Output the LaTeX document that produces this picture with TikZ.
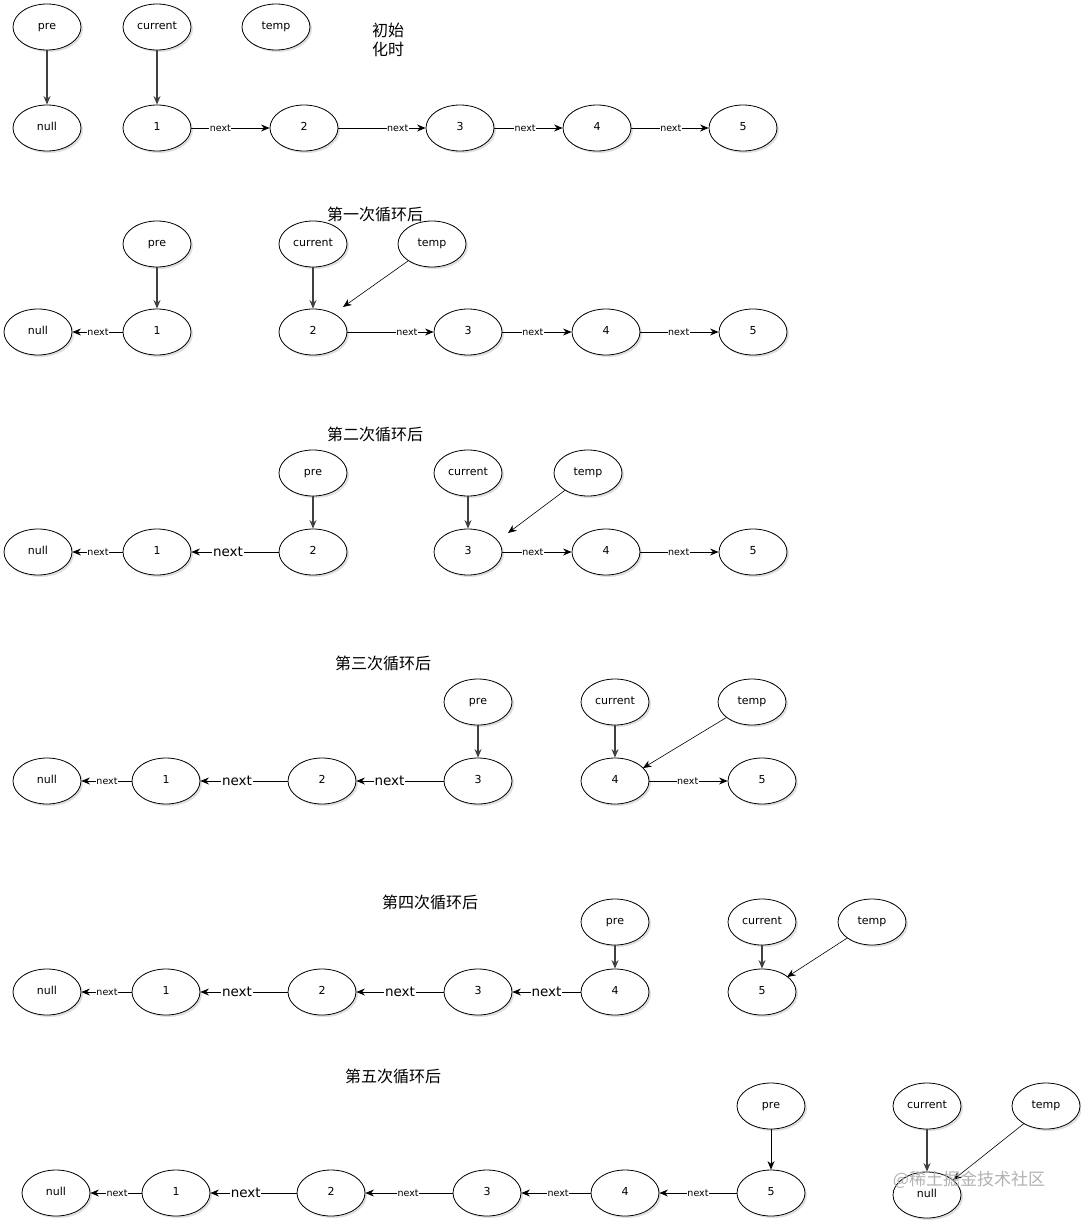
\documentclass[tikz,border=0pt]{standalone}
\usepackage{fontspec}
\usetikzlibrary{shapes.geometric,arrows.meta,shadows}
\newfontfamily\latf{DejaVu Sans}
\newfontfamily\cjkf{Noto Sans CJK SC}
\tikzset{
 ell/.style={ellipse, draw, line width=0.8pt, fill=white, minimum width=68pt, minimum height=46pt, inner sep=0pt,
   font=\latf\fontsize{11}{12}\selectfont, text height=1.6ex, text depth=0.3ex,
   drop shadow={opacity=0.25, shadow xshift=2pt, shadow yshift=-2pt}},
 nxt/.style={draw, line width=0.8pt, -{Stealth[length=8.5pt,width=7pt]}},
 ptr/.style={draw=black!75, line width=1.2pt, -{Stealth[length=8.5pt,width=7pt]}},
 thinptr/.style={draw, line width=0.7pt, -{Stealth[length=8.5pt,width=7pt]}},
 tmparr/.style={draw, line width=0.6pt, -{Stealth[length=8.5pt,width=7pt]}},
 sl/.style={fill=white, inner sep=0.6pt, font=\latf\fontsize{9.5}{11}\selectfont},
 bl/.style={fill=white, inner sep=0.6pt, font=\latf\fontsize{13.5}{15}\selectfont},
 ttl/.style={font=\cjkf\fontsize{16}{19}\selectfont, align=left, inner sep=0pt},
 wm/.style={font=\cjkf\fontsize{17}{19}\selectfont, text=black!30, inner sep=0pt}
}
\begin{document}
\begin{tikzpicture}[x=1pt,y=-1pt]
\useasboundingbox[fill=white] (0,0) rectangle (1080,1220);

% ---------- Row 0: init ----------
\node[ttl] (t0) at (388,40) {初始\\化时};
\node[ell] (a-pre) at (47,27) {pre};
\node[ell] (a-cur) at (157,27) {current};
\node[ell] (a-tmp) at (276,27) {temp};
\node[ell] (a-null) at (47,128) {null};
\node[ell] (a1) at (157,128) {1};
\node[ell] (a2) at (304,128) {2};
\node[ell] (a3) at (460,128) {3};
\node[ell] (a4) at (597,128) {4};
\node[ell] (a5) at (743,128) {5};
\draw[ptr] (a-pre) -- (a-null);
\draw[ptr] (a-cur) -- (a1);
\draw[nxt] (a1) -- (a2) node[sl,pos=0.37] {next};
\draw[nxt] (a2) -- (a3) node[sl,pos=0.68] {next};
\draw[nxt] (a3) -- (a4) node[sl,pos=0.45] {next};
\draw[nxt] (a4) -- (a5) node[sl,pos=0.51] {next};

% ---------- Row 1 ----------
\node[ttl] (t1) at (375,214) {第一次循环后};
\node[ell] (b-pre) at (157,244) {pre};
\node[ell] (b-cur) at (313,244) {current};
\node[ell] (b-tmp) at (432,244) {temp};
\node[ell] (b-null) at (38,332) {null};
\node[ell] (b1) at (157,332) {1};
\node[ell] (b2) at (313,332) {2};
\node[ell] (b3) at (468,332) {3};
\node[ell] (b4) at (606,332) {4};
\node[ell] (b5) at (753,332) {5};
\coordinate (b-tt) at (343,307);
\draw[ptr] (b-pre) -- (b1);
\draw[ptr] (b-cur) -- (b2);
\draw[tmparr] (b-tmp) -- (b-tt);
\draw[nxt] (b1) -- (b-null) node[sl,pos=0.49] {next};
\draw[nxt] (b2) -- (b3) node[sl,pos=0.69] {next};
\draw[nxt] (b3) -- (b4) node[sl,pos=0.44] {next};
\draw[nxt] (b4) -- (b5) node[sl,pos=0.49] {next};

% ---------- Row 2 ----------
\node[ttl] (t2) at (375,434) {第二次循环后};
\node[ell] (c-pre) at (313,473) {pre};
\node[ell] (c-cur) at (468,473) {current};
\node[ell] (c-tmp) at (588,473) {temp};
\node[ell] (c-null) at (38,552) {null};
\node[ell] (c1) at (157,552) {1};
\node[ell] (c2) at (313,552) {2};
\node[ell] (c3) at (468,552) {3};
\node[ell] (c4) at (606,552) {4};
\node[ell] (c5) at (753,552) {5};
\coordinate (c-tt) at (508,533);
\draw[ptr] (c-pre) -- (c2);
\draw[ptr] (c-cur) -- (c3);
\draw[tmparr] (c-tmp) -- (c-tt);
\draw[nxt] (c1) -- (c-null) node[sl,pos=0.49] {next};
\draw[nxt] (c2) -- (c1) node[bl,pos=0.58] {next};
\draw[nxt] (c3) -- (c4) node[sl,pos=0.44] {next};
\draw[nxt] (c4) -- (c5) node[sl,pos=0.49] {next};

% ---------- Row 3 ----------
\node[ttl] (t3) at (383,663) {第三次循环后};
\node[ell] (d-pre) at (478,702) {pre};
\node[ell] (d-cur) at (615,702) {current};
\node[ell] (d-tmp) at (752,702) {temp};
\node[ell] (d-null) at (47,781) {null};
\node[ell] (d1) at (166,781) {1};
\node[ell] (d2) at (322,781) {2};
\node[ell] (d3) at (478,781) {3};
\node[ell] (d4) at (615,781) {4};
\node[ell] (d5) at (762,781) {5};
\coordinate (d-tt) at (643,768);
\draw[ptr] (d-pre) -- (d3);
\draw[ptr] (d-cur) -- (d4);
\draw[tmparr] (d-tmp) -- (d-tt);
\draw[nxt] (d1) -- (d-null) node[sl,pos=0.49] {next};
\draw[nxt] (d2) -- (d1) node[bl,pos=0.58] {next};
\draw[nxt] (d3) -- (d2) node[bl,pos=0.62] {next};
\draw[nxt] (d4) -- (d5) node[sl,pos=0.49] {next};

% ---------- Row 4 ----------
\node[ttl] (t4) at (430,902) {第四次循环后};
\node[ell] (e-pre) at (615,922) {pre};
\node[ell] (e-cur) at (762,922) {current};
\node[ell] (e-tmp) at (872,922) {temp};
\node[ell] (e-null) at (47,992) {null};
\node[ell] (e1) at (166,992) {1};
\node[ell] (e2) at (322,992) {2};
\node[ell] (e3) at (478,992) {3};
\node[ell] (e4) at (615,992) {4};
\node[ell] (e5) at (762,992) {5};
\coordinate (e-tt) at (787,977);
\draw[ptr] (e-pre) -- (e4);
\draw[ptr] (e-cur) -- (e5);
\draw[tmparr] (e-tmp) -- (e-tt);
\draw[nxt] (e1) -- (e-null) node[sl,pos=0.49] {next};
\draw[nxt] (e2) -- (e1) node[bl,pos=0.58] {next};
\draw[nxt] (e3) -- (e2) node[bl,pos=0.5] {next};
\draw[nxt] (e4) -- (e3) node[bl,pos=0.5] {next};

% ---------- Row 5 ----------
\node[ttl] (t5) at (393,1076) {第五次循环后};
\node[ell] (f-pre) at (771,1106) {pre};
\node[ell] (f-cur) at (927,1106) {current};
\node[ell] (f-tmp) at (1046,1106) {temp};
\node[ell] (f-null) at (56,1193) {null};
\node[ell] (f1) at (176,1193) {1};
\node[ell] (f2) at (331,1193) {2};
\node[ell] (f3) at (487,1193) {3};
\node[ell] (f4) at (625,1193) {4};
\node[ell] (f5) at (771,1193) {5};
\node[ell] (f-nullb) at (927,1195) {null};
\coordinate (f-tt) at (953,1180);
\draw[thinptr] (f-pre) -- (f5);
\draw[ptr] (f-cur) -- (f-nullb);
\draw[tmparr] (f-tmp) -- (f-tt);
\draw[nxt] (f1) -- (f-null) node[sl,pos=0.48] {next};
\draw[nxt] (f2) -- (f1) node[bl,pos=0.59] {next};
\draw[nxt] (f3) -- (f2) node[sl,pos=0.51] {next};
\draw[nxt] (f4) -- (f3) node[sl,pos=0.47] {next};
\draw[nxt] (f5) -- (f4) node[sl,pos=0.5] {next};

\node[wm] (wmark) at (969,1180) {@稀土掘金技术社区};
\end{tikzpicture}
\end{document}
